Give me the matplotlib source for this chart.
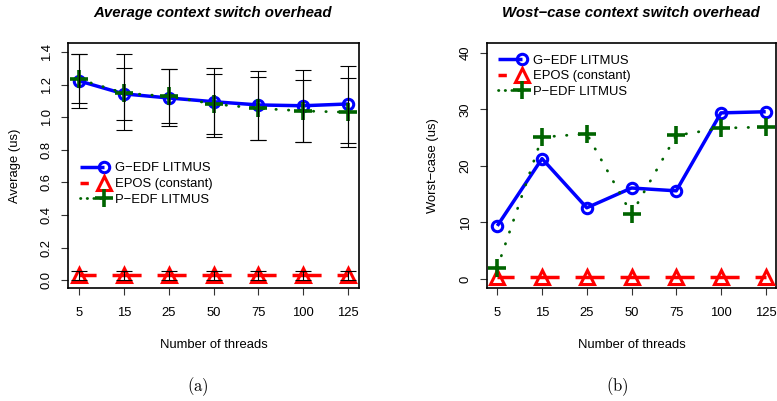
import numpy as np
import matplotlib
matplotlib.use('Agg')
import matplotlib.pyplot as plt
from matplotlib.lines import Line2D
from matplotlib.legend_handler import HandlerLine2D

plt.rcParams['font.family'] = ['Liberation Sans', 'DejaVu Sans']
plt.rcParams['mathtext.fontset'] = 'cm'
plt.rcParams['lines.scale_dashes'] = False

# data
threads = ['5', '15', '25', '50', '75', '100', '125']

gedf_avg = [1.225, 1.145, 1.12, 1.097, 1.077, 1.072, 1.083]
gedf_hi = [1.39, 1.39, 1.298, 1.307, 1.288, 1.292, 1.319]
gedf_lo = [1.061, 0.925, 0.948, 0.88, 0.859, 0.851, 0.818]

pedf_avg = [1.235, 1.15, 1.13, 1.083, 1.056, 1.04, 1.032]
pedf_hi = [1.39, 1.302, 1.296, 1.268, 1.251, 1.231, 1.245]
pedf_lo = [1.091, 0.983, 0.964, 0.896, 0.861, 0.851, 0.845]

epos_avg = [0.031, 0.031, 0.031, 0.031, 0.031, 0.031, 0.031]
epos_hi = [0.058, 0.058, 0.058, 0.058, 0.058, 0.058, 0.058]
epos_lo = [0.0, 0.0, 0.0, 0.0, 0.0, 0.0, 0.0]

gedf_worst = [9.4, 21.3, 12.6, 16.1, 15.6, 29.4, 29.6]
pedf_worst = [2.0, 25.1, 25.7, 11.5, 25.4, 26.7, 26.9]
epos_worst = [0.3, 0.3, 0.3, 0.3, 0.3, 0.3, 0.3]

labels = ['G\u2212EDF LITMUS', 'EPOS (constant)', 'P\u2212EDF LITMUS']

x = np.arange(1, len(threads) + 1)

BLUE = '#0000ff'
RED = '#ff0000'
GREEN = '#006400'
FS = 9.4

gedf_style = dict(color=BLUE, lw=2.5, marker='o', ms=7.5, mew=2.2,
                  mfc='none', solid_capstyle='butt')
epos_style = dict(color=RED, lw=2.5, marker='^', ms=10, mew=2.2,
                  mfc='none', ls=(8.6, (20.9, 11.5)), dash_capstyle='butt')
pedf_style = dict(color=GREEN, lw=2, marker='+', ms=13, mew=2.6,
                  ls=(0, (0.3, 8.7)), dash_capstyle='round')


class EndMarkerHandler(HandlerLine2D):
    # line first, marker sitting at its right end (as in the R legend)
    def create_artists(self, legend, orig_handle, xdescent, ydescent,
                       width, height, fontsize, trans):
        y = (height - ydescent) / 2
        line = Line2D([-xdescent, -xdescent + width], [y, y])
        self.update_prop(line, orig_handle, legend)
        line.set_marker('')
        mark = Line2D([-xdescent + width], [y])
        self.update_prop(mark, orig_handle, legend)
        mark.set_linestyle('none')
        line.set_transform(trans)
        mark.set_transform(trans)
        return [line, mark]


def legend_handles():
    g = Line2D([], [], **gedf_style)
    e_style = dict(epos_style)
    e_style['ls'] = (0, (6, 30))
    e = Line2D([], [], **e_style)
    p_style = dict(pedf_style)
    p_style['ls'] = (0, (0.3, 4.5))
    p = Line2D([], [], **p_style)
    return [g, e, p]


def add_legend(ax, anchor):
    ax.legend(legend_handles(), labels,
              handler_map={Line2D: EndMarkerHandler()},
              loc='upper left', bbox_to_anchor=anchor, frameon=False,
              fontsize=FS, handlelength=1.85, handletextpad=0.85,
              labelspacing=0.27, borderpad=0, borderaxespad=0)


def style_axes(ax, xlim, ylim, yticks, ylabels):
    ax.set_xlim(*xlim)
    ax.set_ylim(*ylim)
    ax.set_xticks(x)
    ax.set_xticklabels(threads)
    ax.set_yticks(yticks)
    ax.set_yticklabels(ylabels)
    plt.setp(ax.get_yticklabels(), rotation=90, va='center')
    ax.tick_params(direction='out', length=5, width=0.8, labelsize=FS,
                   color='#333333')
    ax.tick_params(axis='x', pad=8.5)
    ax.tick_params(axis='y', pad=6)
    for s in ax.spines.values():
        s.set_linewidth(1.2)
    ax.xaxis.set_label_coords(0.5, -0.232)
    ax.xaxis.label.set_va('center')


fig = plt.figure(figsize=(7.77, 4.01), dpi=100)
ax1 = fig.add_axes([68 / 777, 1 - 288 / 401, 291 / 777, 245 / 401])
ax2 = fig.add_axes([487 / 777, 1 - 288 / 401, 289 / 777, 245 / 401])

# (a) average
ax1.plot(x, gedf_avg, zorder=3, **gedf_style)
ax1.plot(x, epos_avg, zorder=3, **epos_style)
ax1.plot(x, pedf_avg, zorder=3, **pedf_style)
for mean, lo, hi in [(gedf_avg, gedf_lo, gedf_hi),
                     (pedf_avg, pedf_lo, pedf_hi),
                     (epos_avg, epos_lo, epos_hi)]:
    m = np.array(mean)
    yerr = [m - np.array(lo), np.array(hi) - m]
    ax1.errorbar(x, m, yerr=yerr, fmt='none', ecolor='black',
                 elinewidth=0.8, capsize=5.8, capthick=0.8, zorder=4)

style_axes(ax1, (0.755, 7.245), (-0.049, 1.458),
           np.arange(0, 1.41, 0.2),
           ['0.0', '0.2', '0.4', '0.6', '0.8', '1.0', '1.2', '1.4'])
ax1.set_xlabel('Number of threads', fontsize=FS)
ax1.set_ylabel('Average (us)', fontsize=FS, va='center')
ax1.yaxis.set_label_coords(-0.182, 0.5)
add_legend(ax1, (0.041, 0.513))

# (b) worst case
ax2.plot(x, gedf_worst, zorder=3, **gedf_style)
ax2.plot(x, epos_worst, zorder=3, **epos_style)
ax2.plot(x, pedf_worst, zorder=3, **pedf_style)

style_axes(ax2, (0.77, 7.23), (-1.6, 41.77),
           [0, 10, 20, 30, 40], ['0', '10', '20', '30', '40'])
ax2.set_xlabel('Number of threads', fontsize=FS)
ax2.set_ylabel('Worst\u2212case (us)', fontsize=FS, va='center')
ax2.yaxis.set_label_coords(-0.187, 0.5)
add_legend(ax2, (0.038, 0.953))

fig.text(213 / 777, 1 - 13 / 401, 'Average context switch overhead',
         ha='center', va='center', fontsize=10.8, fontweight='bold', fontstyle='italic')
fig.text(631 / 777, 1 - 13 / 401, 'Wost\u2212case context switch overhead',
         ha='center', va='center', fontsize=10.8, fontweight='bold', fontstyle='italic')

fig.text(198 / 777, 1 - 387 / 401, r'$\mathrm{(a)}$', ha='center', va='center', fontsize=12)
fig.text(617 / 777, 1 - 387 / 401, r'$\mathrm{(b)}$', ha='center', va='center', fontsize=12)

fig.savefig('out.png', dpi=100)
